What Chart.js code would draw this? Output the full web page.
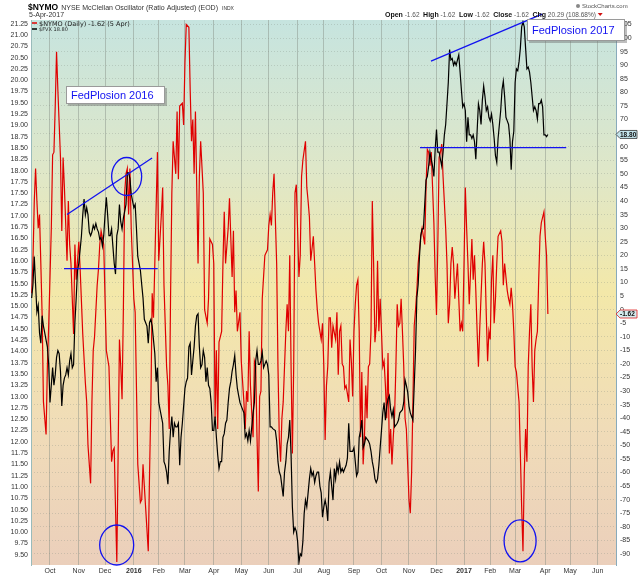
<!DOCTYPE html>
<html>
<head>
<meta charset="utf-8">
<title>$NYMO - NYSE McClellan Oscillator vs $FVX</title>
<script src="https://cdn.jsdelivr.net/npm/chart.js@4.4.1/dist/chart.umd.min.js"></script>
<style>
  html, body { margin: 0; padding: 0; background: #fff; }
</style>
</head>
<body>
<canvas id="myChart" width="640" height="576"></canvas>
<script>
// x values are trading days, 0 = first session of Oct 2015
var monthDays = [0, 22, 42, 64, 83, 103, 125, 146, 167, 189, 209, 232, 253, 274, 295, 316, 336, 355, 378, 397, 418];
var monthLabels = ['Oct', 'Nov', 'Dec', '2016', 'Feb', 'Mar', 'Apr', 'May', 'Jun', 'Jul', 'Aug', 'Sep',
                   'Oct', 'Nov', 'Dec', '2017', 'Feb', 'Mar', 'Apr', 'May', 'Jun'];

// $NYMO (right axis), [day, value]
var nymoPts = [
  [-14, 6], [-13, 18], [-12, 40], [-11, 52], [-10, 40], [-9, 30], [-8, 35], [-7, 17], [-6, -2], [-5, -34],
  [-3, -46], [-2, -21], [-1, -6], [1, 30], [2, 57], [3, 58], [4, 75], [5, 95], [6, 81], [8, 56], [9, 29],
  [10, 56], [11, 45], [13, 18], [14, 40], [15, 24], [16, 17], [18, -9], [19, 24], [20, 11], [22, 25], [23, 15],
  [25, -9], [27, -27], [28, -34], [29, -50], [31, -64], [32, -34], [33, -15], [34, -10], [36, 9], [37, 15],
  [38, 24], [39, 29], [41, 24], [42, 4], [43, -15], [45, -21], [46, -39], [47, -56], [48, -52], [49, -51],
  [50, -73], [51, -93], [52, -53], [53, -11], [54, -21], [55, -33], [56, 0], [57, 43], [58, 50], [59, 52],
  [60, 35], [61, 52], [62, 30], [64, 4], [65, -1], [67, -57], [69, -71], [70, -70], [71, -57], [73, -73],
  [75, -89], [76, -60], [77, -34], [78, 6], [79, -3], [80, 17], [82, 58], [83, 18], [85, 35], [86, 45], [87, 9],
  [89, -21], [90, -28], [91, -44], [92, 4], [93, 43], [94, 62], [96, 50], [97, 73], [98, 48], [99, 75],
  [101, 76], [102, 68], [103, 91], [104, 105], [106, 104], [107, 81], [108, 62], [109, 70], [110, 50],
  [111, 73], [113, 17], [114, 49], [115, 62], [117, 43], [118, 0], [120, -5], [121, 4], [122, 26], [124, 24],
  [125, 17], [126, -40], [127, -15], [128, -44], [129, -12], [131, -8], [132, 17], [133, 36], [134, 17],
  [136, 30], [137, 41], [139, 12], [140, 29], [141, -1], [142, 7], [143, -8], [145, -1], [146, -19],
  [148, -34], [149, -44], [150, -30], [151, -34], [152, -8], [153, -28], [154, -38], [155, -47], [156, -19],
  [157, -21], [158, -47], [159, -67], [160, -32], [161, -30], [162, 4], [163, 12], [164, 20], [166, 22],
  [167, 31], [168, 35], [169, 31], [170, 43], [171, 50], [173, 17], [174, -21], [175, -47], [176, -56],
  [177, -40], [178, -34], [180, -8], [181, 2], [182, -8], [183, 20], [184, -21], [185, -53], [186, -21],
  [187, 43], [188, 46], [190, 12], [191, 20], [192, 49], [193, 55], [195, 62], [196, 45], [197, 40], [198, 34],
  [199, 18], [201, 27], [202, 17], [203, 7], [204, 0], [205, -5], [206, -8], [207, -11], [208, -5], [209, -21],
  [210, -48], [211, -28], [212, -21], [213, -3], [214, -3], [215, -14], [216, -6], [218, -11], [219, -1],
  [220, -24], [221, -8], [222, -6], [223, -20], [224, -21], [225, -29], [226, -28], [228, -34], [229, -11],
  [230, -19], [231, -32], [232, -8], [233, 2], [234, 9], [235, 11], [236, -8], [237, -47], [238, -23],
  [239, -57], [240, -47], [241, -28], [242, -40], [243, -21], [244, -20], [245, -8], [246, 40], [247, 17],
  [248, -12], [249, -6], [250, 18], [251, -8], [252, 4], [253, -8], [254, -21], [255, -19], [256, -28],
  [257, -40], [258, -16], [259, -53], [260, -44], [261, -57], [262, -47], [263, -39], [264, -21], [265, 2],
  [266, -6], [267, -5], [268, 4], [269, -8], [270, -21], [271, -40], [272, -44], [273, -57], [274, -70],
  [275, -75], [276, -60], [277, -34], [278, -6], [279, 0], [280, 7], [281, 17], [283, 27], [284, 30], [285, 27],
  [286, 24], [287, 45], [288, 59], [289, 58], [290, 53], [291, 58], [293, 32], [294, 12], [295, -2], [296, 24],
  [297, 56], [298, 58], [299, 61], [300, 49], [302, 30], [303, 17], [304, -5], [305, 2], [306, 17], [307, 23],
  [308, 17], [309, 4], [311, 17], [312, 4], [313, -8], [314, -5], [315, -8], [316, 17], [317, 45], [318, 30],
  [319, 17], [320, 2], [321, 14], [322, 26], [323, 11], [324, 20], [325, 7], [326, -8], [327, -21], [328, -7],
  [330, 17], [331, 25], [332, 17], [333, -2], [334, -19], [335, -8], [336, -11], [337, 11], [338, 20],
  [339, -5], [340, 4], [341, 17], [342, 27], [344, 29], [345, 25], [346, 9], [347, 17], [349, 7], [350, 4],
  [351, 2], [352, 8], [353, 2], [354, -8], [355, -21], [356, -23], [358, -34], [359, -53], [360, -73],
  [361, -89], [362, -60], [363, -44], [364, -56], [365, -21], [366, -8], [367, 2], [368, -21], [369, -34],
  [370, -15], [371, -11], [372, -8], [373, 11], [374, 27], [375, 32], [377, 36], [378, 27], [379, 20],
  [380, -1.62]
];

// $FVX (left axis), [day, value]
var fvxPts = [
  [-14, 15.18], [-13, 15.48], [-12, 16.10], [-11, 15.48], [-10, 14.87], [-9, 15.02], [-8, 14.41], [-7, 14.18],
  [-6, 14.79], [-5, 14.56], [-4, 14.41], [-3, 14.25], [-2, 14.10], [-1, 13.71], [0, 12.87], [2, 13.64],
  [3, 13.25], [4, 13.48], [5, 13.87], [6, 14.02], [7, 13.95], [8, 13.56], [9, 12.79], [10, 13.25], [11, 13.41],
  [12, 13.48], [13, 13.64], [14, 13.48], [15, 13.79], [16, 13.95], [17, 13.64], [18, 13.71], [19, 14.64],
  [20, 15.18], [21, 15.79], [22, 15.95], [23, 16.25], [24, 16.56], [25, 17.02], [26, 17.37], [27, 17.02],
  [28, 17.18], [29, 17.02], [30, 16.64], [31, 16.56], [32, 16.64], [33, 16.79], [34, 16.71], [35, 16.83],
  [36, 16.71], [37, 16.64], [38, 16.48], [39, 16.52], [40, 16.33], [41, 16.56], [42, 17.02], [43, 17.41],
  [44, 17.02], [45, 16.56], [46, 16.56], [47, 16.71], [48, 16.33], [49, 15.95], [50, 15.71], [51, 16.56],
  [52, 16.71], [53, 17.25], [54, 16.87], [55, 16.71], [56, 16.95], [57, 17.10], [58, 17.25], [59, 17.95],
  [60, 17.95], [61, 17.83], [62, 17.48], [63, 17.33], [64, 17.18], [65, 17.25], [66, 16.71], [67, 16.10],
  [69, 15.79], [70, 15.48], [71, 15.18], [72, 14.71], [74, 14.56], [75, 14.18], [76, 14.64], [77, 14.71],
  [78, 14.56], [79, 14.25], [80, 13.95], [81, 13.33], [82, 13.64], [83, 12.87], [84, 12.71], [85, 12.56],
  [86, 12.41], [87, 11.56], [88, 11.48], [89, 11.33], [90, 11.06], [91, 11.79], [92, 12.25], [93, 12.56],
  [94, 12.10], [95, 12.41], [96, 12.33], [97, 12.33], [98, 12.41], [99, 11.48], [100, 12.10], [101, 12.41],
  [103, 13.18], [104, 13.33], [105, 13.41], [106, 14.10], [107, 14.18], [108, 13.48], [109, 13.79],
  [110, 14.10], [111, 14.56], [112, 14.79], [113, 14.83], [114, 14.10], [115, 13.64], [116, 13.71],
  [117, 14.02], [118, 13.87], [119, 13.33], [120, 13.64], [121, 13.25], [122, 13.18], [123, 12.87],
  [124, 12.25], [125, 12.25], [126, 12.56], [127, 12.10], [128, 11.71], [129, 11.41], [130, 11.56],
  [131, 11.56], [132, 12.10], [133, 12.18], [134, 12.41], [135, 12.48], [136, 12.87], [137, 13.18],
  [138, 13.33], [139, 13.56], [140, 13.71], [141, 13.91], [142, 13.48], [143, 13.18], [144, 13.02],
  [145, 12.87], [146, 12.79], [148, 12.64], [149, 12.10], [150, 12.18], [151, 12.02], [152, 12.25],
  [153, 12.02], [154, 12.33], [155, 12.64], [156, 12.87], [157, 13.79], [158, 14.02], [159, 13.71],
  [160, 13.71], [161, 13.79], [162, 13.98], [163, 13.64], [165, 13.79], [166, 13.71], [167, 13.48],
  [168, 12.33], [169, 12.33], [170, 12.29], [172, 12.25], [173, 12.02], [174, 11.56], [175, 11.33],
  [176, 11.25], [177, 11.02], [178, 10.79], [179, 11.33], [180, 11.56], [181, 11.95], [182, 12.10],
  [183, 12.48], [184, 11.71], [185, 10.56], [186, 10.00], [187, 10.10], [188, 10.02], [189, 9.79],
  [190, 9.33], [191, 9.52], [192, 9.48], [193, 9.79], [194, 10.41], [195, 10.71], [196, 10.56], [197, 10.87],
  [198, 11.18], [199, 11.41], [200, 11.25], [201, 11.33], [202, 11.10], [203, 11.25], [204, 11.33],
  [205, 11.33], [206, 11.02], [207, 10.87], [208, 10.33], [209, 10.56], [210, 10.71], [211, 10.56],
  [212, 10.25], [213, 11.10], [214, 11.33], [215, 11.02], [216, 10.71], [217, 11.41], [218, 11.18],
  [219, 11.48], [220, 11.33], [221, 11.56], [222, 11.33], [223, 11.41], [224, 11.33], [225, 11.41],
  [226, 11.48], [227, 11.64], [228, 12.41], [229, 11.79], [230, 11.79], [231, 11.79], [232, 11.87],
  [233, 11.56], [234, 11.25], [235, 11.33], [236, 12.10], [237, 12.25], [238, 12.48], [239, 11.87],
  [240, 11.95], [241, 12.10], [242, 12.06], [243, 12.02], [244, 11.95], [245, 11.79], [246, 11.56],
  [247, 11.41], [248, 11.18], [249, 11.10], [250, 11.18], [251, 11.48], [252, 11.87], [253, 12.25],
  [254, 12.64], [255, 12.87], [256, 12.48], [257, 12.79], [258, 12.95], [259, 13.02], [260, 12.71],
  [261, 12.56], [262, 12.71], [263, 12.33], [264, 12.37], [265, 12.41], [266, 12.48], [267, 12.64],
  [269, 12.71], [270, 12.87], [271, 13.37], [272, 13.25], [273, 13.10], [274, 12.79], [275, 12.64],
  [276, 12.56], [277, 12.48], [278, 13.25], [279, 14.02], [280, 15.18], [281, 15.48], [282, 16.10],
  [283, 16.56], [284, 16.71], [285, 16.71], [286, 17.25], [287, 17.79], [288, 17.87], [289, 18.10],
  [290, 18.41], [291, 18.25], [292, 18.10], [293, 17.87], [294, 18.48], [295, 18.91], [296, 18.41],
  [297, 18.41], [298, 18.25], [299, 18.10], [300, 18.41], [301, 18.79], [302, 19.02], [303, 19.48],
  [304, 19.95], [305, 20.68], [306, 20.45], [307, 20.48], [308, 20.33], [309, 20.41], [310, 20.33],
  [311, 20.45], [312, 20.56], [313, 20.18], [314, 19.79], [315, 19.41], [316, 19.48], [317, 19.33],
  [318, 18.64], [319, 19.18], [320, 18.79], [321, 18.79], [322, 18.71], [323, 18.79], [324, 18.64],
  [325, 18.25], [326, 18.87], [327, 19.48], [328, 19.33], [329, 19.02], [330, 19.56], [331, 19.87],
  [332, 19.64], [333, 19.33], [334, 19.41], [335, 19.18], [336, 19.10], [337, 19.25], [338, 19.02],
  [339, 18.71], [340, 18.33], [341, 18.18], [342, 18.71], [343, 19.02], [344, 19.33], [345, 19.79],
  [346, 19.98], [347, 19.64], [348, 19.18], [349, 19.10], [350, 19.02], [351, 18.71], [352, 18.02],
  [353, 18.64], [354, 18.87], [355, 19.95], [356, 20.25], [357, 20.21], [358, 20.41], [359, 20.71],
  [360, 21.18], [361, 21.29], [362, 21.18], [363, 20.71], [364, 20.25], [365, 20.29], [366, 20.18],
  [367, 19.95], [368, 19.64], [369, 19.33], [370, 19.41], [371, 19.33], [372, 19.14], [373, 19.48],
  [374, 19.48], [375, 19.56], [376, 19.41], [377, 18.79], [378, 18.79], [379, 18.75], [380, 18.80]
];

var FONT = '"Liberation Sans", Arial, sans-serif';
var BLUE = '#1212f0';

function toXY(pts) {
  return pts.map(function (p) { return { x: p[0], y: p[1] }; });
}

// shaded plot background
var backdrop = {
  id: 'backdrop',
  beforeDraw: function (chart) {
    var a = chart.chartArea, c = chart.ctx;
    var g = c.createLinearGradient(0, a.top, 0, a.bottom);
    g.addColorStop(0, '#c6e4df');
    g.addColorStop(0.28, '#dfe7c8');
    g.addColorStop(0.5, '#f3e8a9');
    g.addColorStop(0.75, '#f0dcb8');
    g.addColorStop(1, '#ebcfbb');
    c.save();
    c.fillStyle = g;
    c.fillRect(a.left, a.top, a.right - a.left, a.bottom - a.top);
    c.restore();
  }
};

// hand drawn notes, header, legend and last value tags
var notes = {
  id: 'notes',
  afterDraw: function (chart) {
    var c = chart.ctx, x = chart.scales.x, yL = chart.scales.yL, yR = chart.scales.yR;
    var a = chart.chartArea;

    function line(d1, v1, d2, v2, ys) {
      c.save();
      c.strokeStyle = BLUE; c.lineWidth = 1.3;
      c.beginPath();
      c.moveTo(x.getPixelForValue(d1), ys.getPixelForValue(v1));
      c.lineTo(x.getPixelForValue(d2), ys.getPixelForValue(v2));
      c.stroke();
      c.restore();
    }
    function ring(d, v, ys, rx, ry) {
      c.save();
      c.strokeStyle = BLUE; c.lineWidth = 1.3;
      c.beginPath();
      c.ellipse(x.getPixelForValue(d), ys.getPixelForValue(v), rx, ry, 0, 0, Math.PI * 2);
      c.stroke();
      c.restore();
    }
    function noteBox(text, bx, by, bw, bh) {
      c.save();
      c.fillStyle = 'rgba(110,110,110,0.45)';
      c.fillRect(bx + 2, by + 2, bw, bh);
      c.fillStyle = '#fff';
      c.fillRect(bx, by, bw, bh);
      c.strokeStyle = '#9a9a9a'; c.lineWidth = 1;
      c.strokeRect(bx + 0.5, by + 0.5, bw - 1, bh - 1);
      c.fillStyle = BLUE;
      c.font = '11px ' + FONT;
      c.textBaseline = 'middle';
      c.fillText(text, bx + 5, by + bh / 2 + 0.5);
      c.restore();
    }
    function tag(v, ys, text, fill, edge) {
      var ty = ys.getPixelForValue(v), x0 = a.right, x1 = a.right + 21;
      c.save();
      c.beginPath();
      c.moveTo(x0, ty); c.lineTo(x0 + 4, ty - 4); c.lineTo(x1, ty - 4);
      c.lineTo(x1, ty + 4); c.lineTo(x0 + 4, ty + 4); c.closePath();
      c.fillStyle = fill; c.fill();
      c.strokeStyle = edge; c.lineWidth = 0.8; c.stroke();
      c.fillStyle = '#111';
      c.font = 'bold 6.5px ' + FONT;
      c.textBaseline = 'middle';
      c.fillText(text, x0 + 4, ty + 0.5);
      c.restore();
    }

    // 2015/16 wedge, support, circles
    line(13, 17.03, 77.9, 18.28, yL);
    line(10.7, 15.83, 82.2, 15.83, yL);
    ring(58.5, 17.87, yL, 15, 19);
    ring(50.9, -86.7, yR, 17, 20);
    // 2016/17 wedge, support, circle
    line(290.8, 20.42, 375.6, 21.46, yL);
    line(282.4, 18.51, 394, 18.51, yL);
    ring(358.8, -85.2, yR, 16, 21);

    noteBox('FedPlosion 2016', 66, 86, 99, 18);
    noteBox('FedPlosion 2017', 527, 19, 98, 22);

    tag(fvxPts[fvxPts.length - 1][1], yL, '18.80', '#c4e4ec', '#333');
    tag(nymoPts[nymoPts.length - 1][1], yR, '-1.62', '#d4ecef', '#e02020');

    // header
    c.save();
    c.textBaseline = 'alphabetic';
    c.fillStyle = '#000';
    c.font = 'bold 8.5px ' + FONT;
    c.fillText('$NYMO', 28, 10);
    var tx = 28 + c.measureText('$NYMO').width + 3;
    c.fillStyle = '#333';
    c.font = '7px ' + FONT;
    c.fillText('NYSE McClellan Oscillator (Ratio Adjusted) (EOD)', tx, 10);
    tx += c.measureText('NYSE McClellan Oscillator (Ratio Adjusted) (EOD)').width + 4;
    c.font = '5px ' + FONT;
    c.fillText('INDX', tx, 10);
    c.font = '7px ' + FONT;
    c.fillText('5-Apr-2017', 29, 17);

    var parts = [['Open', 1], [' -1.62  ', 0], ['High', 1], [' -1.62  ', 0], ['Low', 1], [' -1.62  ', 0],
                 ['Close', 1], [' -1.62  ', 0], ['Chg', 1], [' 20.29 (108.68%) ', 0]];
    var hx = 385;
    parts.forEach(function (p) {
      c.font = (p[1] ? 'bold 7px ' : '6.5px ') + FONT;
      c.fillStyle = p[1] ? '#111' : '#555';
      c.fillText(p[0], hx, 17);
      hx += c.measureText(p[0]).width;
    });
    c.fillStyle = '#d01010';
    c.beginPath(); c.moveTo(hx, 13); c.lineTo(hx + 5, 13); c.lineTo(hx + 2.5, 16); c.closePath(); c.fill();

    c.fillStyle = '#888';
    c.beginPath(); c.arc(578, 6, 2, 0, Math.PI * 2); c.fill();
    c.fillStyle = '#555';
    c.font = '6px ' + FONT;
    c.fillText('StockCharts.com', 582, 8);

    // legend
    c.lineWidth = 1.5;
    c.strokeStyle = '#e00000';
    c.beginPath(); c.moveTo(32, 23); c.lineTo(37, 23); c.stroke();
    c.strokeStyle = '#000';
    c.beginPath(); c.moveTo(32, 29); c.lineTo(37, 29); c.stroke();
    c.fillStyle = '#222';
    c.font = '6.5px "DejaVu Sans", sans-serif';
    c.fillText('$NYMO (Daily) -1.62 (5 Apr)', 39, 25.5);
    c.font = '5px "DejaVu Sans", sans-serif';
    c.fillText('$FVX 18.80', 39, 31);
    c.restore();
  }
};

var ctx = document.getElementById('myChart').getContext('2d');
var chart = new Chart(ctx, {
    type: 'line',
    data: {
        datasets: [{
            label: '$FVX',
            data: toXY(fvxPts),
            yAxisID: 'yL',
            borderColor: '#000',
            borderWidth: 1.2,
            pointRadius: 0,
            tension: 0
        }, {
            label: '$NYMO (Daily)',
            data: toXY(nymoPts),
            yAxisID: 'yR',
            borderColor: '#e00000',
            borderWidth: 1.2,
            pointRadius: 0,
            tension: 0
        }]
    },
    options: {
        responsive: false,
        animation: false,
        events: [],
        layout: { padding: { top: 20, left: 0, right: 0, bottom: 0 } },
        plugins: { legend: { display: false }, tooltip: { enabled: false } },
        scales: {
            x: {
                type: 'linear',
                min: -14.5,
                max: 432,
                afterBuildTicks: function (s) { s.ticks = monthDays.map(function (d) { return { value: d }; }); },
                afterFit: function (s) { s.height = 11; },
                ticks: {
                    autoSkip: false,
                    maxRotation: 0,
                    padding: 2,
                    color: '#333',
                    callback: function (v, i) { return monthLabels[i]; },
                    font: function (cx) {
                        var lab = cx.tick ? String(cx.tick.label) : '';
                        return { family: FONT, size: 7, weight: /^\d{4}$/.test(lab) ? 'bold' : 'normal' };
                    }
                },
                grid: { color: 'rgba(130,140,130,0.45)', drawTicks: false },
                border: { display: false }
            },
            yL: {
                position: 'left',
                min: 9.274,
                max: 21.332,
                afterBuildTicks: function (s) {
                    var t = [];
                    for (var i = 38; i <= 85; i++) t.push({ value: i / 4 });
                    s.ticks = t;
                },
                afterFit: function (s) { s.width = 31; },
                ticks: {
                    autoSkip: false,
                    padding: 3,
                    color: '#333',
                    font: { family: FONT, size: 7 },
                    callback: function (v) { return v.toFixed(2); }
                },
                grid: { display: false, drawTicks: false },
                border: { display: true, color: '#9bb', dash: [1, 2] }
            },
            yR: {
                position: 'right',
                min: -94.07,
                max: 106.67,
                afterBuildTicks: function (s) {
                    var t = [];
                    for (var i = -18; i <= 21; i++) t.push({ value: i * 5 });
                    s.ticks = t;
                },
                afterFit: function (s) { s.width = 24; },
                ticks: {
                    autoSkip: false,
                    padding: 4,
                    color: '#333',
                    font: { family: FONT, size: 7 },
                    callback: function (v) { return String(v); }
                },
                grid: { color: 'rgba(130,140,130,0.3)', drawTicks: false },
                border: { display: true, color: '#8ab', dash: [1, 2] }
            }
        }
    },
    plugins: [backdrop, notes]
});
</script>
</body>
</html>
